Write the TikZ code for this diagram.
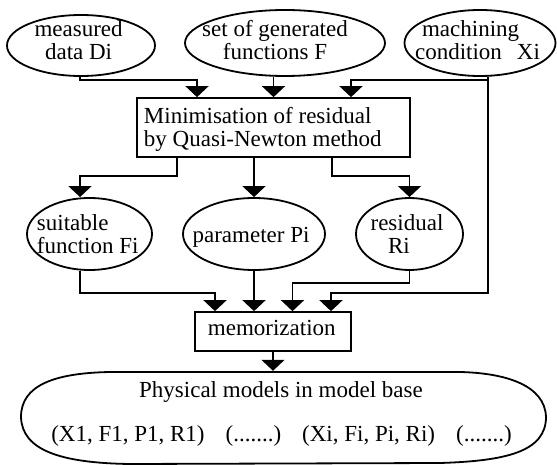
\documentclass[tikz,border=0pt]{standalone}
\usepackage{fontspec}
\setmainfont{Liberation Serif}
\usetikzlibrary{shapes.geometric,arrows.meta,calc}

\begin{document}
\begin{tikzpicture}[x=1pt,y=-1pt,
  oval/.style={ellipse, draw, line width=1.8pt, inner sep=0pt},
  boxnode/.style={rectangle, draw, line width=1.7pt, inner sep=0pt},
  lbl/.style={font=\fontsize{23}{23.5}\selectfont, inner sep=0pt},
  conn/.style={line width=1.6pt, -{Triangle[width=23pt,length=11pt]}}]
\useasboundingbox (0,0) rectangle (557,465);

% inputs
\node[oval, minimum width=148pt, minimum height=61pt] (md) at (81,45.5) {};
\node[oval, minimum width=200pt, minimum height=66pt] (gf) at (285,43) {};
\node[oval, minimum width=151pt, minimum height=66pt] (mc) at (480,43) {};
\node[lbl, align=center] (mdt) at (78.6,40.2) {measured\\data Di};
\node[lbl, align=center] (gft) at (275,40.2) {set of generated\\functions F};
\node[lbl, align=left] (mct) at (477.5,40.2) {\hspace*{7pt}machining\\condition\hspace{15pt}Xi};

% optimisation step
\node[boxnode, minimum width=273pt, minimum height=59pt] (mb) at (273.5,127.5) {};
\node[lbl, align=left] (mbt) at (262.8,129.4) {Minimisation of residual\\by Quasi-Newton method};

% results
\node[oval, minimum width=125pt, minimum height=72pt] (sf) at (89.5,234) {};
\node[oval, minimum width=142pt, minimum height=72pt] (pp) at (254,234) {};
\node[oval, minimum width=107pt, minimum height=72pt] (rs) at (409.5,234) {};
\node[lbl, align=left] (sft) at (87.7,234.2) {suitable\\function Fi};
\node[lbl, anchor=base] (ppt) at (251,243) {parameter Pi};
\node[lbl, align=center] (rst) at (407,234.2) {residual\\Ri\hspace*{16pt}};

% storage
\node[boxnode, minimum width=156pt, minimum height=39pt] (mem) at (273,331.5) {};
\node[lbl, anchor=base] (memt) at (271.8,335.5) {memorization};

% model base
\node[minimum width=525pt, minimum height=93pt, inner sep=0pt] (mbase) at (283.5,417.5) {};
\draw[line width=1.8pt, line cap=round, line join=round]
  (110,372) -- (460,372)
  .. controls (505,373) and (545,385) .. (546,417)
  .. controls (546,452) and (505,461) .. (440,463)
  -- (130,464)
  .. controls (60,463) and (22,450) .. (21,417)
  .. controls (21,385) and (55,373) .. (110,372);
\node[lbl, anchor=base] (pmt) at (281,397) {Physical models in model base};
\node[lbl, anchor=base] (pml) at (281.5,441)
  {(X1, F1, P1, R1)\hspace{21pt}(.......)\hspace{21pt}(Xi, Fi, Pi, Ri)\hspace{21pt}(.......)};

% connectors into the minimisation
\draw[conn] ([xshift=-1pt]md.south) -- ++(0,3) -| ([xshift=-76.5pt]mb.north);
\draw[conn] (gf.south -| mb.north) -- (mb.north);
\draw[conn] ([xshift=8pt]mc.south) -- ++(0,3) -| ([xshift=77.5pt]mb.north);

% connectors to the results
\draw[conn] ([xshift=-96.5pt]mb.south) -- ++(0,18) -| ([xshift=-9.5pt]sf.north);
\draw[conn] (mb.south -| pp.north) -- (pp.north);
\draw[conn] ([xshift=58.5pt]mb.south) -- ++(0,18) -| (rs.north);

% connectors into memorization
\draw[conn] ([xshift=-9.5pt]sf.south) -- ++(0,22) -| ([xshift=-58pt]mem.north);
\draw[conn] (pp.south) -- (pp.south |- mem.north);
\draw[conn] (rs.south) -- ++(0,12) -| ([xshift=19.5pt]mem.north);
\draw[conn] ([xshift=8pt]mc.south) -- ++(0,216) -| ([xshift=58pt]mem.north);

% into the model base
\draw[conn] (mem.south) -- (mem.south |- mbase.north);
\end{tikzpicture}
\end{document}
